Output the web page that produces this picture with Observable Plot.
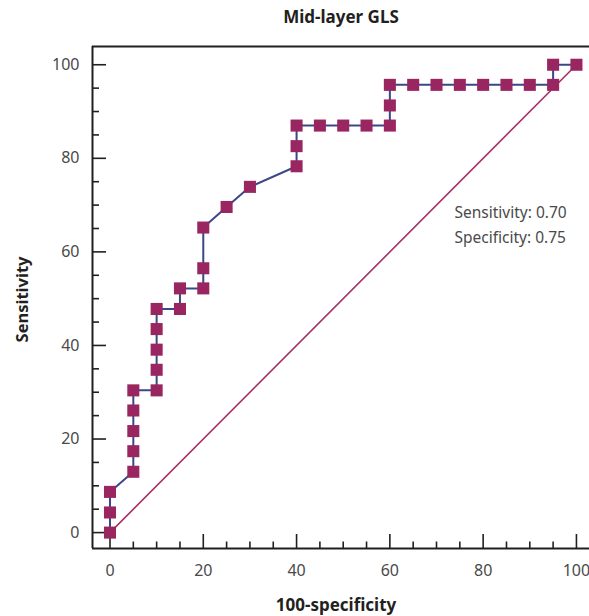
<!DOCTYPE html>
<html>
<head>
<meta charset="utf-8">
<script src="https://cdn.jsdelivr.net/npm/d3@7"></script>
<script src="https://cdn.jsdelivr.net/npm/@observablehq/plot@0.6"></script>
<style>
  html, body { margin: 0; padding: 0; background: #fff; }
  #chart svg { display: block; }
</style>
</head>
<body>
<div id="chart"></div>
<script>
const title = "Mid-layer GLS";
const xLabel = "100-specificity";
const yLabel = "Sensitivity";
const annotations = ["Sensitivity: 0.70", "Specificity: 0.75"];

const oneMinusSpec = [0, 0, 0, 5, 5, 5, 5, 5, 10, 10, 10, 10, 10, 15, 15, 20, 20, 20, 25, 30, 40, 40, 40, 45, 50, 55, 60, 60, 60, 65, 70, 75, 80, 85, 90, 95, 95, 100];
const sensitivity = [0, 4.3, 8.7, 13.0, 17.4, 21.7, 26.1, 30.4, 30.4, 34.8, 39.1, 43.5, 47.8, 47.8, 52.2, 52.2, 56.5, 65.2, 69.6, 73.9, 78.3, 82.6, 87.0, 87.0, 87.0, 87.0, 87.0, 91.3, 95.7, 95.7, 95.7, 95.7, 95.7, 95.7, 95.7, 95.7, 100, 100];
const referenceLine = [0, 100];

const majorTicks = [0, 20, 40, 60, 80, 100];
const minorTicks = [0, 5, 10, 15, 20, 25, 30, 35, 40, 45, 50, 55, 60, 65, 70, 75, 80, 85, 90, 95, 100];

const points = oneMinusSpec.map((x, i) => ({x, y: sensitivity[i]}));
const diag = referenceLine.map(v => ({x: v, y: v}));

const W = 589, H = 616;
const mL = 92, mR = 0, mT = 46, mB = 68;
const pw = W - mL - mR, ph = H - mT - mB;
const xDom = [-3.75, 102.8], yDom = [-3.4, 103.9];
const ink = "#231f20";
const grey = "#4a4a4a";
const font = "Noto Sans, sans-serif";

const chart = Plot.plot({
  width: W, height: H,
  marginLeft: mL, marginRight: mR, marginTop: mT, marginBottom: mB,
  style: {fontFamily: font, fontSize: "15px", color: grey, background: "#fff"},
  x: {domain: xDom, axis: null},
  y: {domain: yDom, axis: null},
  marks: [
    // frame lines
    Plot.ruleX([xDom[0]], {stroke: ink, strokeWidth: 2}),
    Plot.ruleY([yDom[0]], {stroke: ink, strokeWidth: 2}),
    Plot.ruleY([yDom[1]], {stroke: ink, strokeWidth: 2}),
    // inward ticks
    Plot.tickX(minorTicks.filter(d => !majorTicks.includes(d)), {x: d => d, stroke: ink, strokeWidth: 1.6, insetTop: ph - 6.5}),
    Plot.tickX(majorTicks, {x: d => d, stroke: ink, strokeWidth: 1.6, insetTop: ph - 14}),
    Plot.tickY(minorTicks.filter(d => !majorTicks.includes(d)), {y: d => d, stroke: ink, strokeWidth: 1.6, insetRight: pw - 7}),
    Plot.tickY(majorTicks, {y: d => d, stroke: ink, strokeWidth: 1.6, insetRight: pw - 14}),
    // tick labels
    Plot.text(majorTicks, {x: d => d, frameAnchor: "bottom", lineAnchor: "middle", dy: 22, text: d => String(d), fill: grey, fontSize: 16}),
    Plot.text(majorTicks, {y: d => d, frameAnchor: "left", lineAnchor: "middle", dx: -13, textAnchor: "end", text: d => String(d), fill: grey, fontSize: 16}),
    // reference diagonal
    Plot.line(diag, {x: "x", y: "y", stroke: "#a3306a", strokeWidth: 1.6}),
    // ROC curve
    Plot.line(points, {x: "x", y: "y", stroke: "#3c4789", strokeWidth: 2}),
    Plot.dot(points, {x: "x", y: "y", symbol: "square", r: 6.8, fill: "#992660", stroke: "none"}),
    // annotations
    Plot.text([annotations[0]], {frameAnchor: "top-left", lineAnchor: "middle", dx: 362, dy: 167, textAnchor: "start", fill: grey, fontSize: 15.5}),
    Plot.text([annotations[1]], {frameAnchor: "top-left", lineAnchor: "middle", dx: 362, dy: 192, textAnchor: "start", fill: grey, fontSize: 15.5}),
    // title and axis labels
    Plot.text([title], {frameAnchor: "top", lineAnchor: "middle", textAnchor: "middle", dy: -29, fontWeight: "bold", fontSize: 17, fill: ink}),
    Plot.text([xLabel], {frameAnchor: "bottom", lineAnchor: "middle", textAnchor: "middle", dy: 57, dx: -5, fontWeight: "bold", fontSize: 17, fill: ink}),
    Plot.text([yLabel], {frameAnchor: "left", lineAnchor: "middle", textAnchor: "middle", dx: -70, dy: 2, rotate: -90, fontWeight: "bold", fontSize: 16.5, fill: ink})
  ]
});
document.getElementById("chart").append(chart);
</script>
</body>
</html>
